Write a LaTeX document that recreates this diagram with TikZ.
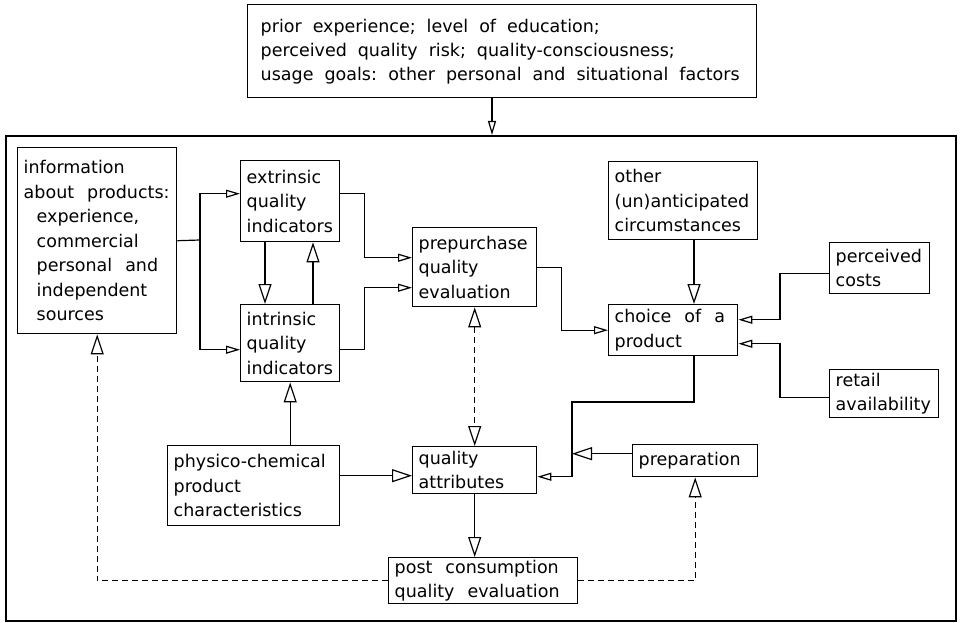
\documentclass[tikz,border=0pt]{standalone}
\usepackage{fontspec}
\setmainfont{DejaVu Sans}
\usetikzlibrary{arrows.meta}
\newcommand\myfnt{\fontsize{17.5}{24.5}\selectfont}
\newcommand\mytopfnt{\fontsize{17.5}{24}\selectfont}
\newcommand\widesp{\spaceskip=13pt plus 2pt minus 1pt\relax\xspaceskip=14pt plus 2pt\relax}
\newcommand\topsp{\spaceskip=11pt plus 2pt minus 1pt\relax\xspaceskip=11.5pt plus 2pt\relax}
\begin{document}
\begin{tikzpicture}[x=1pt,y=-1pt,
  box/.style={draw, line width=1.4pt, anchor=north west, inner xsep=6pt, inner ysep=0pt, align=left,
     font=\myfnt, execute at begin node=\widesp},
  conn/.style={line width=1.2pt},
  sarrow/.style={conn, -{Triangle[open, length=14pt, width=8pt]}},
  barrow/.style={conn, -{Triangle[open, length=20pt, width=13pt]}},
  darrow/.style={conn, {Triangle[open, length=20pt, width=13pt]}-{Triangle[open, length=20pt, width=13pt]}},
  dashline/.style={dash pattern=on 6pt off 4pt}]
\useasboundingbox (0,0) rectangle (960,623);
\coordinate (xa) at (694,0);
\coordinate (xt) at (492,0);
\coordinate (c2) at (572,402);

% frames
\node[box, inner xsep=13pt, minimum width=509pt, minimum height=93pt, text width=483pt,
      font=\mytopfnt, execute at begin node=\topsp] (top) at (247,4)
  {\mbox{prior experience; level of education;}\\
   \mbox{perceived quality risk; quality-consciousness;}\\
   \mbox{usage goals: other personal and situational factors}};
\node[draw, line width=1.8pt, anchor=north west, minimum width=950pt, minimum height=485pt, inner sep=0pt] (frame) at (5,135) {};

% boxes
\node[box, minimum width=159pt, minimum height=186pt, text width=147pt] (info) at (17,147)
  {information\\ \mbox{about products:}\\ \hspace*{13pt}experience,\\ \hspace*{13pt}commercial\\
   \hspace*{13pt}\mbox{personal and}\\ \hspace*{13pt}independent\\ \hspace*{13pt}sources};
\node[box, minimum width=99pt, minimum height=81pt, text width=87pt] (extrinsic) at (240,160)
  {extrinsic\\ quality\\ indicators};
\node[box, minimum width=99pt, minimum height=77pt, text width=87pt] (intrinsic) at (240,304)
  {intrinsic\\ quality\\ indicators};
\node[box, minimum width=124pt, minimum height=79pt, text width=112pt] (prepurchase) at (412,227)
  {prepurchase\\ quality\\ evaluation};
\node[box, minimum width=149pt, minimum height=78pt, text width=137pt] (other) at (608,161)
  {other\\ (un)anticipated\\ circumstances};
\node[box, minimum width=129pt, minimum height=51pt, text width=117pt] (choice) at (608,304)
  {\mbox{choice of a}\\ product};
\node[box, minimum width=100pt, minimum height=51pt, text width=88pt] (perceived) at (829,242)
  {perceived\\ costs};
\node[box, minimum width=109pt, minimum height=48pt, text width=97pt] (retail) at (829,369)
  {retail\\ availability};
\node[box, minimum width=172pt, minimum height=80pt, text width=160pt] (physico) at (167,445)
  {\mbox{physico-chemical}\\ product\\ characteristics};
\node[box, minimum width=124pt, minimum height=47pt, text width=112pt] (quality) at (412,446)
  {quality\\ attributes};
\node[box, minimum width=125pt, minimum height=32pt, text width=113pt] (preparation) at (632,444)
  {preparation};
\node[box, minimum width=189pt, minimum height=46pt, text width=177pt, inner xsep=5pt] (post) at (388,557)
  {\mbox{post consumption}\\ \mbox{quality evaluation}};

% connectors
\draw[sarrow] (top.south -| xt) -- (frame.north -| xt);
\draw[conn] (info.east) -- (200,240) coordinate (j1);
\draw[sarrow] (j1) |- ([yshift=7.5pt]extrinsic.west);
\draw[sarrow] (j1) |- ([yshift=-6.5pt]intrinsic.west);
\draw[barrow] ([xshift=25pt]extrinsic.south west) -- ([xshift=25pt]intrinsic.north west);
\draw[barrow] ([xshift=73pt]intrinsic.north west) -- ([xshift=73pt]extrinsic.south west);
\draw[sarrow] ([yshift=7.5pt]extrinsic.east) -- ++(24,0) |- ([yshift=9.5pt]prepurchase.west);
\draw[sarrow] ([yshift=-6.5pt]intrinsic.east) -- ++(24,0) |- ([yshift=-20.5pt]prepurchase.west);
\draw[sarrow] (prepurchase.east) -- ++(24,0) |- (choice.west);
\draw[barrow] (other.south -| xa) -- (choice.north -| xa);
\draw[sarrow] ([yshift=-5.5pt]perceived.west) -- ++(-49,0) |- ([yshift=10.5pt]choice.east);
\draw[sarrow] ([yshift=-4pt]retail.west) -- ++(-49,0) |- ([yshift=-13.5pt]choice.east);
\draw[sarrow] (choice.south -| xa) |- (c2) |- ([yshift=-6.5pt]quality.east);
\draw[barrow] ([yshift=7pt]preparation.west) -- ++(-60,0);
\draw[darrow, dashline] (prepurchase.south) -- (quality.north);
\draw[barrow] (quality.south) -- (post.north -| quality.south);
\draw[barrow] (physico.north -| intrinsic.south) -- (intrinsic.south);
\draw[barrow] ([yshift=10pt]physico.east) -- ([yshift=-5.5pt]quality.west);
\draw[barrow, dashline] (post.west) -| (info.south);
\draw[barrow, dashline] (post.east) -| (preparation.south);
\end{tikzpicture}
\end{document}
